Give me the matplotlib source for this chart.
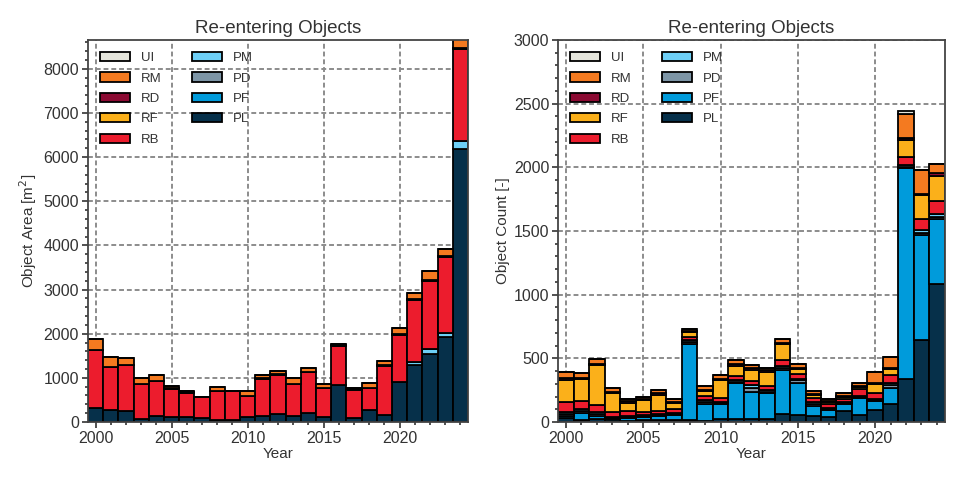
import numpy as np
import matplotlib
matplotlib.use("Agg")
import matplotlib.pyplot as plt
from matplotlib.ticker import MultipleLocator

plt.rcParams['font.family'] = ['Liberation Sans', 'DejaVu Sans']

years = np.arange(2000, 2025)
classes = ["PL", "PF", "PD", "PM", "RB", "RF", "RD", "RM", "UI"]
colors = {"PL": "#06304a", "PF": "#009bdb", "PD": "#7d95a6", "PM": "#6dcff6",
          "RB": "#ec1c2d", "RF": "#fbb01a", "RD": "#8b0a32", "RM": "#f47a20",
          "UI": "#e5e5dc"}

# object area [m^2]
area_PL = [320, 275, 260, 60, 125, 115, 115, 80, 55, 55, 115, 125, 170, 140, 215, 110,
           830, 95, 265, 155, 910, 1300, 1545, 1920, 6190]
area_PF = [0] * 25
area_PD = [0] * 25
area_PM = [0, 0, 0, 0, 0, 0, 0, 0, 0, 0, 0, 0, 0, 0, 0, 0,
           0, 0, 0, 0, 0, 50, 100, 105, 180]
area_RB = [1300, 980, 1020, 790, 805, 635, 535, 475, 640, 650, 470, 850, 905, 710, 910, 655,
           895, 625, 500, 1110, 1060, 1410, 1555, 1705, 2080]
area_RF = [0] * 25
area_RD = [0, 0, 0, 0, 0, 15, 20, 0, 10, 0, 10, 10, 10, 10, 15, 15,
           25, 25, 10, 15, 15, 20, 20, 20, 30]
area_RM = [265, 210, 165, 140, 135, 60, 25, 0, 95, 0, 100, 85, 80, 130, 75, 75,
           20, 35, 110, 95, 145, 130, 190, 175, 300]
area_UI = [0] * 25

# object count [-]
count_PL = [30, 15, 20, 10, 10, 15, 15, 15, 15, 5, 20, 20, 20, 20, 60, 55,
            47, 39, 86, 55, 92, 139, 340, 646, 1087]
count_PF = [20, 58, 25, 15, 22, 26, 30, 40, 600, 140, 118, 283, 215, 204, 346, 254,
            79, 53, 53, 136, 73, 131, 1655, 825, 510]
count_PD = [15, 15, 15, 7, 8, 7, 8, 8, 15, 15, 12, 15, 35, 15, 20, 18,
            17, 12, 10, 8, 8, 22, 7, 15, 15]
count_PM = [15, 17, 19, 7, 7, 7, 7, 10, 12, 10, 10, 10, 18, 10, 14, 14,
            14, 9, 8, 5, 5, 17, 20, 20, 25]
count_RB = [80, 60, 55, 40, 39, 24, 26, 32, 26, 34, 31, 34, 34, 34, 45, 34,
            34, 31, 26, 53, 53, 61, 61, 92, 97]
count_RF = [173, 170, 314, 150, 66, 92, 129, 45, 35, 38, 137, 81, 90, 113, 124, 42,
            22, 11, 11, 16, 68, 47, 134, 181, 199]
count_RD = [10, 10, 10, 10, 10, 10, 10, 10, 10, 10, 10, 10, 10, 10, 10, 10,
            10, 10, 10, 10, 10, 10, 10, 10, 19]
count_RM = [50, 40, 35, 31, 21, 16, 24, 18, 21, 31, 29, 32, 23, 21, 31, 26,
            21, 18, 21, 26, 87, 84, 188, 188, 78]
count_UI = [0, 0, 0, 0, 0, 0, 0, 0, 0, 0, 0, 0, 0, 0, 0, 0,
            0, 0, 0, 0, 0, 0, 27, 5, 0]

area = {"PL": area_PL, "PF": area_PF, "PD": area_PD, "PM": area_PM, "RB": area_RB,
        "RF": area_RF, "RD": area_RD, "RM": area_RM, "UI": area_UI}
count = {"PL": count_PL, "PF": count_PF, "PD": count_PD, "PM": count_PM, "RB": count_RB,
         "RF": count_RF, "RD": count_RD, "RM": count_RM, "UI": count_UI}


def stacked(ax, data, ylabel, ymax, ymajor, yminor):
    bottom = np.zeros(len(years))
    for c in classes:
        vals = np.array(data[c], dtype=float)
        ax.bar(years, vals, width=1.0, bottom=bottom, color=colors[c],
               edgecolor="black", linewidth=1.3, label=c)
        bottom += vals
    ax.set_xlim(1999.5, 2024.5)
    ax.set_ylim(0, ymax)
    ax.set_axisbelow(True)
    ax.grid(True, color="#8c8c8c", linestyle=(0, (2.5, 1.5)), linewidth=1.4)
    ax.xaxis.set_major_locator(MultipleLocator(5))
    ax.xaxis.set_minor_locator(MultipleLocator(1))
    ax.yaxis.set_major_locator(MultipleLocator(ymajor))
    ax.yaxis.set_minor_locator(MultipleLocator(yminor))
    ax.tick_params(which="major", length=4, width=1.2, color="#333333",
                   labelsize=11.5, labelcolor="#333333", pad=2.5)
    ax.tick_params(which="minor", length=2.5, width=1.2, color="#333333")
    for s in ax.spines.values():
        s.set_color("#444444")
        s.set_linewidth(1.3)
    ax.set_title("Re-entering Objects", fontsize=13.5, color="#333333", pad=5)
    ax.set_xlabel("Year", fontsize=11, color="#333333", labelpad=1)
    ax.set_ylabel(ylabel, fontsize=11, color="#333333", labelpad=3)
    h, l = ax.get_legend_handles_labels()
    ax.legend(h[::-1], l[::-1], ncol=2, loc="upper left", frameon=False,
              fontsize=9.5, handlelength=2.3, handleheight=0.7,
              handletextpad=0.8, columnspacing=2.3, labelspacing=0.62,
              borderaxespad=0.5, labelcolor="#333333")


fig = plt.figure(figsize=(9.6, 4.83), dpi=100)
ax1 = fig.add_axes([0.0917, 0.1263, 0.3958, 0.7909])
ax2 = fig.add_axes([0.5815, 0.1263, 0.4025, 0.7909])

stacked(ax1, area, "Object Area [m$^2$]", 8650, 1000, 200)
stacked(ax2, count, "Object Count [-]", 3000, 500, 100)

fig.savefig("out.png", dpi=100)
